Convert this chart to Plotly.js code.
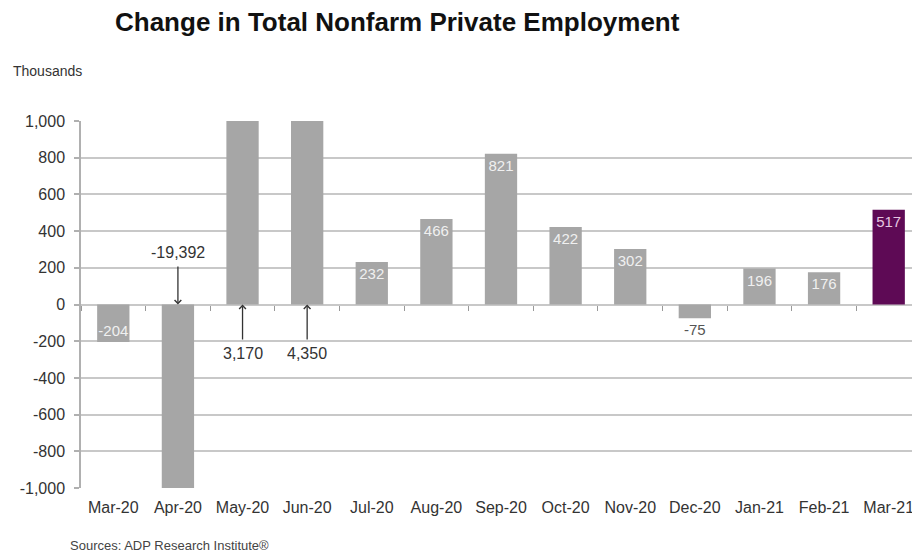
<!DOCTYPE html>
<html>
<head>
<meta charset="utf-8">
<script src="https://cdn.plot.ly/plotly-3.0.1.min.js"></script>
<style>
html,body{margin:0;padding:0;overflow:hidden;background:#fff;}
#chart{width:930px;height:554px;}
</style>
</head>
<body>
<div id="chart"></div>
<script>
var months = ["Mar-20","Apr-20","May-20","Jun-20","Jul-20","Aug-20","Sep-20","Oct-20","Nov-20","Dec-20","Jan-21","Feb-21","Mar-21"];
var changes = [-204, -19392, 3170, 4350, 232, 466, 821, 422, 302, -75, 196, 176, 517];
var yTicks = [-1000, -800, -600, -400, -200, 0, 200, 400, 600, 800, 1000];
var yTickLabels = ["-1,000","-800","-600","-400","-200","0","200","400","600","800","1,000"];
var offScale = ["Apr-20","May-20","Jun-20"];
var offScaleLabels = ["-19,392","3,170","4,350"];
var offScaleLabelY = [283, -267, -267];

var grey = "#a6a6a6", purple = "#5e0a55";
var lastIdx = months.length - 1;
var colors = months.map(function(m,i){ return i === lastIdx ? purple : grey; });
var texts = changes.map(function(v,i){ return offScale.indexOf(months[i]) >= 0 ? "" : String(v); });
var positions = changes.map(function(v,i){
  if (offScale.indexOf(months[i]) >= 0) return "none";
  if (v < 0 && v > -100) return "outside";
  return "inside";
});
var textColors = changes.map(function(v,i){
  if (i === lastIdx) return "#e6c6e0";
  if (v < 0 && v > -100) return "#555555";
  return "#f0f0f0";
});

var bars = {
  type: "bar", x: months, y: changes,
  marker: {color: colors},
  width: 0.5,
  text: texts, textposition: positions,
  insidetextanchor: "end",
  constraintext: "none",
  textangle: 0,
  textfont: {family: "Liberation Sans, Arial, sans-serif", size: 15, color: textColors},
  cliponaxis: true,
  hoverinfo: "x+y"
};
var tickHolder = {
  type: "scatter", mode: "markers", x: months, y: months.map(function(){return null;}),
  xaxis: "x2", yaxis: "y", showlegend: false, hoverinfo: "skip"
};

var annotations = offScale.map(function(m,k){
  return {
    x: m, y: 0, xref: "x", yref: "y",
    ax: m, ay: offScaleLabelY[k], axref: "x", ayref: "y",
    text: offScaleLabels[k], showarrow: true,
    arrowhead: 4, arrowsize: 1, arrowwidth: 1.3, arrowcolor: "#333",
    standoff: 0, startstandoff: 4,
    font: {family: "Liberation Sans, Arial, sans-serif", size: 16, color: "#333"}
  };
});
annotations.push({
  text: "Thousands", xref: "paper", yref: "paper", x: -0.083, y: 1.135,
  xanchor: "left", yanchor: "middle", showarrow: false,
  font: {family: "Liberation Sans, Arial, sans-serif", size: 14, color: "#333"}
});
annotations.push({
  text: "Sources: ADP Research Institute®", xref: "paper", yref: "paper", x: -0.016, y: -57/367,
  xanchor: "left", yanchor: "middle", showarrow: false,
  font: {family: "Liberation Sans, Arial, sans-serif", size: 13, color: "#444"}
});

var layout = {
  width: 930, height: 554,
  margin: {l: 81, r: 9, t: 121, b: 66},
  paper_bgcolor: "#fff", plot_bgcolor: "#fff",
  showlegend: false,
  title: {
    text: "<b>Change in Total Nonfarm Private Employment</b>",
    x: 115/930, xanchor: "left", xref: "container",
    y: 1 - 22/554, yanchor: "middle", yref: "container",
    font: {family: "Liberation Sans, Arial, sans-serif", size: 26, color: "#111"}
  },
  xaxis: {
    type: "category", range: [-0.5, 12.5],
    showgrid: false, zeroline: false, showline: false, ticks: "",
    tickfont: {family: "Liberation Sans, Arial, sans-serif", size: 16, color: "#333"},
    ticklabelstandoff: 8
  },
  xaxis2: {
    type: "category", range: [-0.5, 12.5], overlaying: "x", anchor: "free", position: 0.5,
    side: "bottom", showgrid: false, zeroline: false, showline: false,
    ticks: "outside", tickson: "boundaries", ticklen: 5, tickwidth: 1, tickcolor: "#999",
    showticklabels: false, categoryorder: "array", categoryarray: months
  },
  yaxis: {
    range: [-1000, 1000], tickvals: yTicks, ticktext: yTickLabels,
    showgrid: true, gridcolor: "#c8c8c8", gridwidth: 1.5,
    zeroline: true, zerolinecolor: "#c8c8c8", zerolinewidth: 1.5,
    showline: true, linecolor: "#b0b0b0", linewidth: 1.5,
    ticks: "outside", ticklen: 5, tickcolor: "#b0b0b0", tickwidth: 1.5,
    tickfont: {family: "Liberation Sans, Arial, sans-serif", size: 16, color: "#333"},
    ticklabelstandoff: 6
  },
  bargap: 0.5,
  annotations: annotations
};

Plotly.newPlot("chart", [bars, tickHolder], layout, {displayModeBar: false, responsive: false});
</script>
</body>
</html>
